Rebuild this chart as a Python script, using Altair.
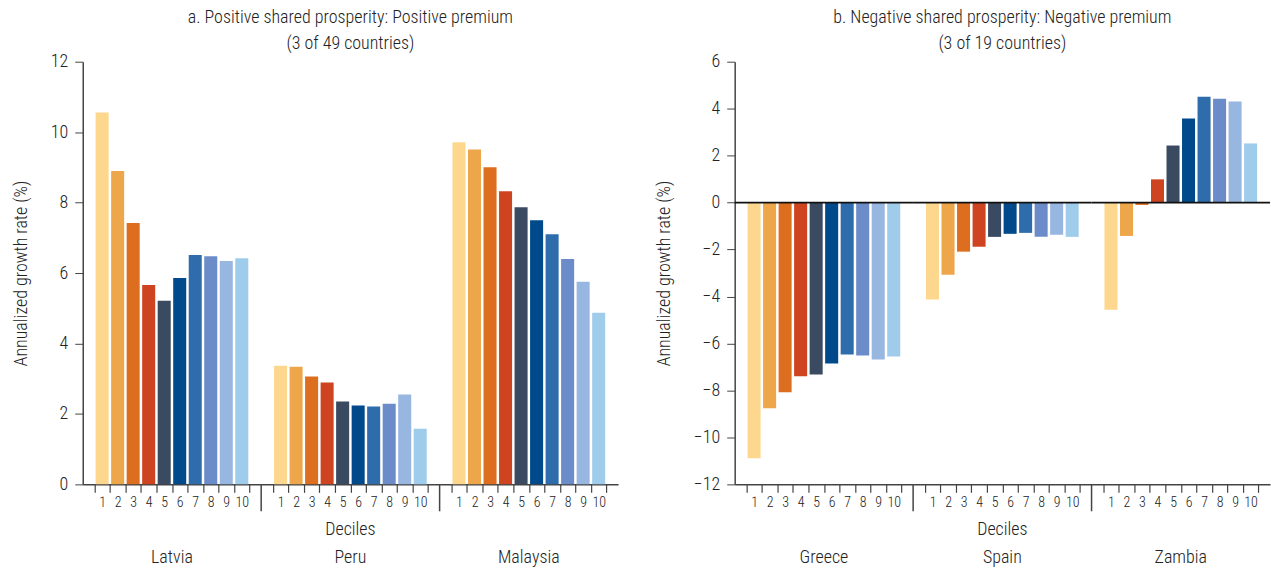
import altair as alt
import pandas as pd

FONT = "Roboto Condensed, Liberation Sans Narrow, DejaVu Sans Condensed, Roboto, sans-serif"
FW = 300

deciles = [str(i) for i in range(1, 11)]
colors = ["#FDD78E", "#EDA64A", "#DE6E1F", "#CF4420", "#3A4A60",
          "#004A8C", "#2F6CAC", "#6B8CC8", "#97B6E0", "#A0CCEC"]

countries_a = ["Latvia", "Peru", "Malaysia"]
latvia = [10.56, 8.90, 7.42, 5.66, 5.21, 5.86, 6.51, 6.48, 6.34, 6.42]
peru = [3.37, 3.34, 3.06, 2.89, 2.35, 2.24, 2.21, 2.29, 2.55, 1.58]
malaysia = [9.71, 9.51, 9.00, 8.32, 7.87, 7.50, 7.10, 6.40, 5.75, 4.87]

countries_b = ["Greece", "Spain", "Zambia"]
greece = [-10.89, -8.76, -8.08, -7.40, -7.32, -6.85, -6.47, -6.51, -6.68, -6.55]
spain = [-4.13, -3.07, -2.09, -1.88, -1.46, -1.33, -1.29, -1.46, -1.37, -1.46]
zambia = [-4.56, -1.42, -0.10, 0.99, 2.43, 3.58, 4.51, 4.42, 4.30, 2.52]

title_a = ["a. Positive shared prosperity: Positive premium", "(3 of 49 countries)"]
title_b = ["b. Negative shared prosperity: Negative premium", "(3 of 19 countries)"]
y_title = "Annualized growth rate (%)"

W = 179
H = 424
TXT = "#222222"
AX = "#444444"


def frame(countries, series):
    rows = []
    for c, vals in zip(countries, series):
        for d, v in zip(deciles, vals):
            rows.append({"country": c, "decile": d, "value": v})
    return pd.DataFrame(rows)


def panel(df, countries, title, ymin, ymax, zero_line):
    x_enc = alt.X(
        "decile:O", sort=deciles,
        scale=alt.Scale(paddingInner=0, paddingOuter=0.75),
        axis=alt.Axis(title=None, labelAngle=0, tickBand="extent", tickSize=8,
                      tickColor=AX, domainColor=AX, domainWidth=1.5, tickWidth=1.2,
                      labelFontSize=14, labelFontWeight=FW, labelPadding=3, labelColor=TXT),
    )
    y_enc = alt.Y(
        "value:Q",
        scale=alt.Scale(domain=[ymin, ymax], nice=False),
        axis=alt.Axis(title=y_title, values=list(range(ymin, ymax + 1, 2)), grid=False,
                      tickSize=8, tickColor=AX, domainColor=AX, domainWidth=1.5,
                      labelFontSize=18, labelFontWeight=FW, labelColor=TXT, labelPadding=7,
                      titleFontSize=18, titleFontWeight=FW, titleColor=TXT,
                      titlePadding=20),
    )
    bars = alt.Chart().mark_bar(width=alt.RelativeBandSize(0.84)).encode(
        x=x_enc, y=y_enc,
        color=alt.Color("decile:O", scale=alt.Scale(domain=deciles, range=colors), legend=None),
    )
    layers = [bars]
    if zero_line:
        zl = alt.Chart().mark_rule(color="#111111", strokeWidth=1.6).encode(
            y=alt.Y(datum=0), x=alt.value(0), x2=alt.value(W)
        ).transform_filter("datum.decile == '1'")
        layers.append(zl)
    sep = alt.Chart().mark_rule(color=AX, strokeWidth=1.5).encode(
        x=alt.value(0), y=alt.value(H), y2=alt.value(H + 27)
    ).transform_filter(f"datum.decile == '1' && datum.country != '{countries[0]}'")
    names = alt.Chart().mark_text(fontSize=18, fontWeight=FW, color=TXT, baseline="alphabetic").encode(
        x=alt.value(W / 2), y=alt.value(H + 79), text="country:N"
    ).transform_filter("datum.decile == '1'")
    mid = f"datum.decile == '1' && datum.country == '{countries[1]}'"
    dec = alt.Chart().mark_text(fontSize=18, fontWeight=FW, color=TXT, baseline="alphabetic").encode(
        x=alt.value(W / 2), y=alt.value(H + 51), text=alt.value("Deciles")
    ).transform_filter(mid)
    ttl = alt.Chart().mark_text(fontSize=18, fontWeight=FW, color=TXT, baseline="alphabetic",
                                lineHeight=26).encode(
        x=alt.value(W / 2), y=alt.value(-39), text=alt.value(title)
    ).transform_filter(mid)
    layers += [sep, dec, names, ttl]
    return alt.layer(*layers, data=df).properties(width=W, height=H).facet(
        column=alt.Column("country:N", sort=countries, header=alt.Header(labels=False, title=None)),
        spacing=0,
        bounds="flush",
    )


df_a = frame(countries_a, [latvia, peru, malaysia])
df_b = frame(countries_b, [greece, spain, zambia])

pa = panel(df_a, countries_a, title_a, 0, 12, False)
pb = panel(df_b, countries_b, title_b, -12, 6, True)

chart = alt.hconcat(pa, pb, spacing=37).properties(
    padding={"left": 12, "top": 8, "right": 0, "bottom": 0}
).configure(font=FONT).configure_view(stroke=None)

chart.save("out.html", embed_options={"renderer": "svg", "actions": False})
